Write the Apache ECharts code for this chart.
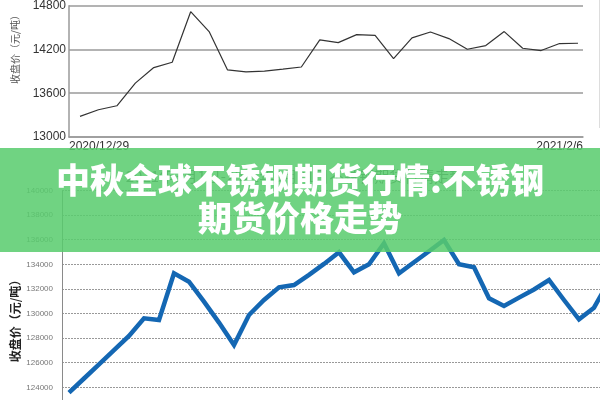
<!DOCTYPE html>
<html>
<head>
<meta charset="utf-8">
<script src="https://cdn.jsdelivr.net/npm/echarts@6/dist/echarts.min.js"></script>
<style>html,body{margin:0;padding:0;background:#fff}#c{width:600px;height:400px}</style>
</head>
<body>
<div id="c"></div>
<script>
// ---- top chart (thin black line) ----
var topDates = ["2020/12/29","2020/12/30","2020/12/31","2021/1/4","2021/1/5","2021/1/6","2021/1/7","2021/1/8",
  "2021/1/11","2021/1/12","2021/1/13","2021/1/14","2021/1/15","2021/1/18","2021/1/19","2021/1/20","2021/1/21","2021/1/22",
  "2021/1/25","2021/1/26","2021/1/27","2021/1/28","2021/1/29","2021/2/1","2021/2/2","2021/2/3","2021/2/4","2021/2/6"];
var topValues = [13283,13374,13428,13738,13952,14025,14718,14445,13920,13893,13902,13930,13960,
  14331,14294,14404,14394,14075,14358,14440,14349,14203,14253,14445,14217,14185,14281,14285];
var topTicks = [13000,13600,14200,14800];

// ---- bottom chart (thick blue line) ----
var bottomCats = ["1","2","3","4","5","6","7","8","9","10","11","12","13","14","15","16","17","18","19","20",
  "21","22","23","24","25","26","27","28","29","30","31","32","33","34","35","36","37"];
var bottomValues = [123560,124715,125870,127016,128171,129610,129471,133268,132585,130967,129260,127439,
  129878,131097,132130,132317,133146,134032,134976,133350,134000,135707,133268,134163,135057,135975,
  134000,133756,131236,130610,131293,131951,132723,131097,129528,130471,132642];
var bottomTicks = [122000,124000,126000,128000,130000,132000,134000,136000,138000,140000];

var yTitle = "收盘价（元/吨）";
var bannerLine1 = "中秋全球不锈钢期货行情:不锈钢";
var bannerLine2 = "期货价格走势";
var hiddenTitle = "2021年3月1日-2021年9月21日不锈钢期货行情走势";

var chart = echarts.init(document.getElementById('c'), null, {renderer: 'canvas'});
var font = '"Liberation Sans", Arial, sans-serif';
var cjk = '"Noto Sans CJK SC", sans-serif';
var plain = function (v) { return String(v); };

var option = {
  animation: false,
  backgroundColor: '#fff',
  grid: [
    {left: 69, width: 514, top: 5.7, height: 131.3, outerBoundsMode: 'none'},   // top frame
    {left: 80, width: 498, top: 5.7, height: 131.3, outerBoundsMode: 'none'},   // top data
    {left: 62, width: 538, top: 190.5, height: 221.4, outerBoundsMode: 'none'}, // bottom frame
    {left: 69, width: 540, top: 190.5, height: 221.4, outerBoundsMode: 'none'}  // bottom data
  ],
  xAxis: [
    {gridIndex: 0, type: 'value', min: 0, max: 1, interval: 1,
     axisLine: {show: true, onZero: false, lineStyle: {color: '#9a9a9a', width: 1.5}},
     axisTick: {show: false}, splitLine: {show: false},
     axisLabel: {show: true, margin: 4, color: '#333', fontSize: 12, fontFamily: font,
       alignMinLabel: 'left', alignMaxLabel: 'right',
       formatter: function (v) { return v === 0 ? topDates[0] : topDates[topDates.length - 1]; }}},
    {gridIndex: 1, type: 'category', data: topDates, boundaryGap: false, show: false},
    {gridIndex: 2, type: 'value', min: 0, max: 1, show: false},
    {gridIndex: 3, type: 'category', data: bottomCats, boundaryGap: false, show: false}
  ],
  yAxis: [
    {gridIndex: 0, type: 'value', min: topTicks[0], max: topTicks[topTicks.length - 1], interval: 600,
     axisLine: {show: true, lineStyle: {color: '#9a9a9a', width: 1.5}},
     axisTick: {show: false},
     splitLine: {show: true, lineStyle: {color: '#9a9a9a', width: 1.5}},
     axisLabel: {color: '#333', fontSize: 12, fontFamily: font, margin: 3, formatter: plain}},
    {gridIndex: 1, type: 'value', min: topTicks[0], max: topTicks[topTicks.length - 1], show: false},
    {gridIndex: 2, type: 'value', min: bottomTicks[0], max: bottomTicks[bottomTicks.length - 1], interval: 2000,
     axisLine: {show: true, lineStyle: {color: '#8a8a8a', width: 1}},
     axisTick: {show: false},
     splitLine: {show: true, lineStyle: {color: '#999', width: 1, type: [2, 1]}},
     axisLabel: {color: '#777', fontSize: 8, fontFamily: font, margin: 9, formatter: plain}},
    {gridIndex: 3, type: 'value', min: bottomTicks[0], max: bottomTicks[bottomTicks.length - 1], show: false}
  ],
  series: [
    {type: 'line', xAxisIndex: 1, yAxisIndex: 1, data: topValues, symbol: 'none',
     lineStyle: {color: '#333', width: 1.2}},
    {type: 'line', xAxisIndex: 3, yAxisIndex: 3, data: bottomValues, symbol: 'none',
     lineStyle: {color: '#1467b3', width: 4.5, join: 'miter'}}
  ],
  graphic: [
    {type: 'line', shape: {x1: 599.5, y1: 0, x2: 599.5, y2: 128}, style: {stroke: '#ddd', lineWidth: 1}, z: 1},
    {type: 'text', x: 15, y: 47, rotation: Math.PI / 2, z: 5,
     style: {text: yTitle, fill: '#555', font: '10px ' + cjk, textAlign: 'center', textVerticalAlign: 'middle'}},
    {type: 'text', x: 15, y: 318, rotation: Math.PI / 2, z: 5,
     style: {text: yTitle, fill: '#222', font: 'bold 12px ' + cjk, textAlign: 'center', textVerticalAlign: 'middle'}},
    {type: 'text', x: 295, y: 176, z: 5,
     style: {text: hiddenTitle, fill: '#555', font: '15px ' + cjk, textAlign: 'center', textVerticalAlign: 'middle'}},
    {type: 'rect', shape: {x: 0, y: 148, width: 600, height: 104}, z: 100,
     style: {fill: 'rgba(89,204,109,0.86)'}},
    {type: 'text', x: 300, y: 180, z: 101,
     style: {text: bannerLine1, fill: '#fff', font: '900 34px ' + cjk, textAlign: 'center', textVerticalAlign: 'middle',
       shadowColor: 'rgba(0,0,0,0.25)', shadowBlur: 2}},
    {type: 'text', x: 300, y: 218, z: 101,
     style: {text: bannerLine2, fill: '#fff', font: '900 34px ' + cjk, textAlign: 'center', textVerticalAlign: 'middle',
       shadowColor: 'rgba(0,0,0,0.25)', shadowBlur: 2}}
  ]
};
chart.setOption(option);
</script>
</body>
</html>
